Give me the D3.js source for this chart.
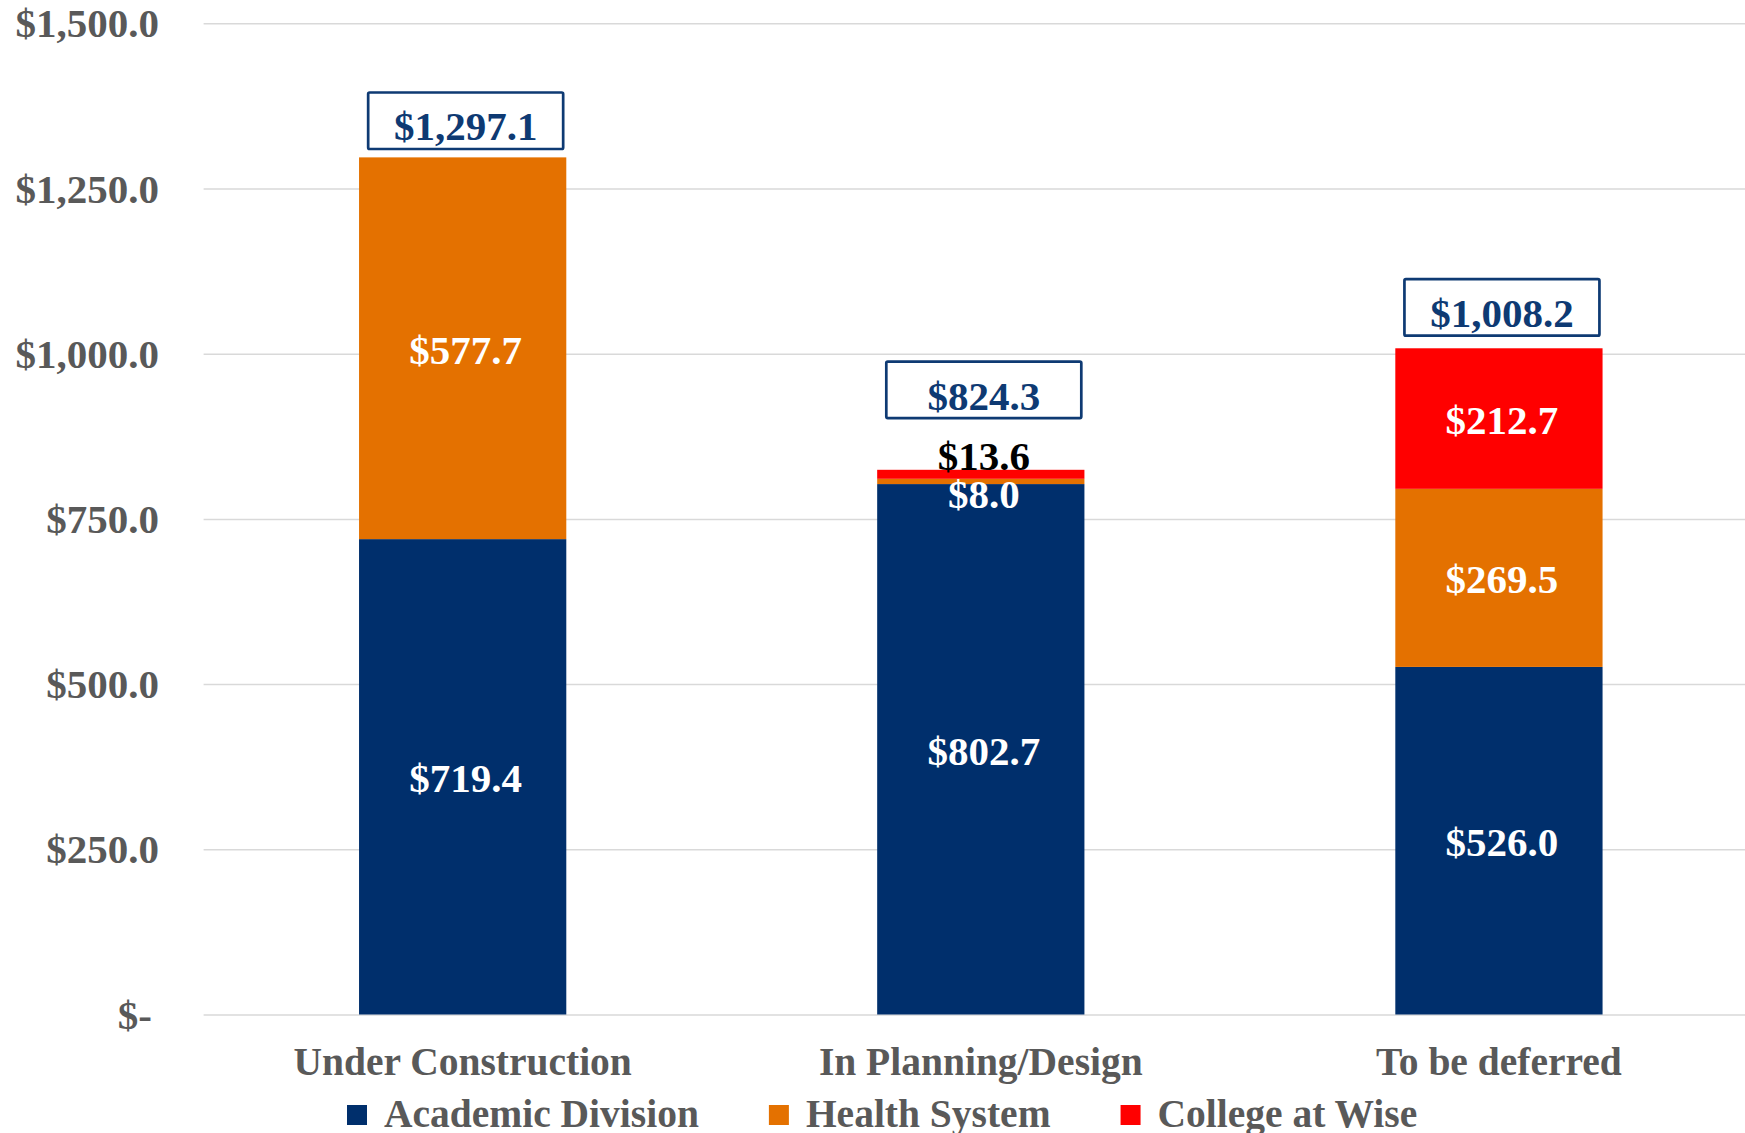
<!DOCTYPE html>
<html>
<head>
<meta charset="utf-8">
<script src="https://cdn.jsdelivr.net/npm/d3@7"></script>
<style>
  body { margin: 0; background: #fff; }
  svg { display: block; }
  text { font-family: "Liberation Serif", "Times New Roman", serif; font-weight: bold; }
</style>
</head>
<body>
<svg id="chart"></svg>
<script>
// chart data
const categories = ["Under Construction", "In Planning/Design", "To be deferred"];
const seriesNames = ["Academic Division", "Health System", "College at Wise"];
const academicDivision = [719.4, 802.7, 526.0];
const healthSystem = [577.7, 8.0, 269.5];
const collegeAtWise = [0, 13.6, 212.7];
const yTicks = [0, 250, 500, 750, 1000, 1250, 1500];

const colors = ["#002F6C", "#E47100", "#FF0000"];
const navy = "#0E3A73";
const gray = "#595959";

function getConfig() {
    let width = 1745, height = 1133;
    let svg = d3.select("#chart")
        .attr("width", width)
        .attr("height", height);
    return { width, height, svg, left: 203.6, right: 1758, top: 23.3, bottom: 1014.5 };
}

function getData() {
    let rows = categories.map((c, i) => ({
        category: c,
        [seriesNames[0]]: academicDivision[i],
        [seriesNames[1]]: healthSystem[i],
        [seriesNames[2]]: collegeAtWise[i]
    }));
    let stacked = d3.stack().keys(seriesNames)(rows);
    let totals = rows.map(r => d3.sum(seriesNames, k => r[k]));
    return { rows, stacked, totals };
}

function getScales(config) {
    let x = d3.scaleBand()
        .domain(categories)
        .range([config.left, config.right])
        .paddingInner(0.6)
        .paddingOuter(0.3);
    let y = d3.scaleLinear()
        .domain([0, 1500])
        .range([config.bottom, config.top]);
    return { x, y };
}

let money = d3.format(",.1f");

function drawAxes(config, scales) {
    let { svg, left, bottom } = config;
    let { x, y } = scales;

    let yAxis = d3.axisLeft(y)
        .tickValues(yTicks)
        .tickSize(-1600)
        .tickPadding(44.6)
        .tickFormat(d => d === 0 ? "$-" : "$" + money(d));

    let yg = svg.append("g")
        .attr("transform", "translate(" + left + ",0)")
        .call(yAxis);
    yg.select(".domain").remove();
    yg.selectAll("line").attr("stroke", "#D9D9D9").attr("stroke-width", 1.5);
    yg.selectAll("text")
        .attr("fill", gray)
        .style("font-size", "41px")
        .attr("dx", d => d === 0 ? -7 : 0)
        .attr("dy", "0.33em");

    let xAxis = d3.axisBottom(x).tickSize(0).tickPadding(32.5);
    let xg = svg.append("g")
        .attr("transform", "translate(0," + bottom + ")")
        .call(xAxis);
    xg.select(".domain").remove();
    xg.selectAll("text")
        .attr("fill", gray)
        .style("font-size", "39.5px");
}

function drawBars(config, scales, data) {
    let { svg } = config;
    let { x, y } = scales;

    // manual label moves for the thin segments
    let nudge = { "In Planning/Design|Health System": 11.5, "In Planning/Design|College at Wise": -20 };

    let layers = svg.selectAll(".layer")
        .data(data.stacked)
        .enter().append("g")
        .attr("class", "layer")
        .attr("fill", (d, i) => colors[i]);

    layers.selectAll("rect")
        .data(d => d.map(p => ({ p, key: d.key })))
        .enter().append("rect")
        .attr("x", d => x(d.p.data.category))
        .attr("width", x.bandwidth())
        .attr("y", d => y(d.p[1]))
        .attr("height", d => y(d.p[0]) - y(d.p[1]));

    layers.selectAll("text")
        .data(d => d.map(p => ({ p, key: d.key })).filter(d => d.p[1] - d.p[0] > 0))
        .enter().append("text")
        .attr("x", d => x(d.p.data.category) + x.bandwidth() / 2 + 3)
        .attr("y", d => (y(d.p[0]) + y(d.p[1])) / 2 + 2 + (nudge[d.p.data.category + "|" + d.key] || 0))
        .attr("dy", "0.33em")
        .attr("text-anchor", "middle")
        .attr("fill", d => d.key == "College at Wise" && d.p[1] - d.p[0] < 20 ? "#000" : "#fff")
        .style("font-size", "41px")
        .text(d => "$" + money(d.p[1] - d.p[0]));

    // total boxes
    let gaps = [8.4, 51.7, 12.6];
    let boxW = 195, boxH = 56.5;
    let totals = svg.selectAll(".total")
        .data(data.totals)
        .enter().append("g")
        .attr("class", "total")
        .attr("transform", (d, i) => "translate(" + (x(categories[i]) + x.bandwidth() / 2 + 3) + "," + (y(d) - gaps[i]) + ")");

    totals.append("rect")
        .attr("x", -boxW / 2)
        .attr("y", -boxH)
        .attr("width", boxW)
        .attr("height", boxH)
        .attr("rx", 1.5)
        .attr("fill", "#fff")
        .attr("stroke", navy)
        .attr("stroke-width", 2.7);

    totals.append("text")
        .attr("y", -8.5)
        .attr("text-anchor", "middle")
        .attr("fill", navy)
        .style("font-size", "41px")
        .text(d => "$" + money(d));
}

function drawLegend(config) {
    let { svg } = config;
    let g = svg.append("g").attr("transform", "translate(347,1105)");
    let xPos = 0;
    seriesNames.forEach((name, i) => {
        let item = g.append("g").attr("transform", "translate(" + xPos + ",0)");
        item.append("rect")
            .attr("width", 20).attr("height", 20)
            .attr("fill", colors[i]);
        let t = item.append("text")
            .attr("x", 37)
            .attr("y", 22.3)
            .attr("fill", gray)
            .style("font-size", "39.5px")
            .text(name);
        xPos += 37 + t.node().getComputedTextLength() + 70;
    });
}

function drawChart() {
    let config = getConfig();
    let data = getData();
    let scales = getScales(config);
    drawAxes(config, scales);
    drawBars(config, scales, data);
    drawLegend(config);
}

drawChart();
</script>
</body>
</html>
